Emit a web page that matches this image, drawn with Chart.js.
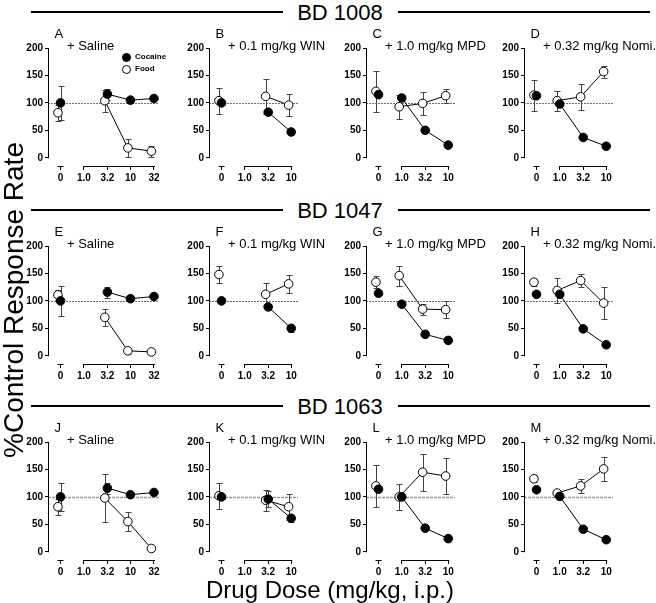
<!DOCTYPE html>
<html>
<head>
<meta charset="utf-8">
<script src="https://cdn.jsdelivr.net/npm/chart.js@4.4.1/dist/chart.umd.min.js"></script>
<style>
    body { margin: 0; background: #fff; }
    #page { position: relative; width: 656px; height: 603px; overflow: hidden;
            font-family: "Liberation Sans", Arial, sans-serif; color: #000; }
    #page canvas { position: absolute; }
    .txt { position: absolute; white-space: nowrap; line-height: 1; }
    .rule { position: absolute; height: 2px; background: #000; }
    .dot { position: absolute; width: 7px; height: 7px; border-radius: 50%; border: 1px solid #000; }
</style>
</head>
<body>
<div id="page"></div>
<script>
// Dose-response panels: cocaine vs food responding after pretreatments

// where the "0" (vehicle) point sits on the log dose axis
const CTRL = 0.316;

const dosesSaline = [3.2, 10, 32];
const dosesWin = [3.2, 10];
const dosesPre = [1.0, 3.2, 10];

const ticksWide = [CTRL, 1.0, 3.2, 10, 32];
const tickLabelsWide = ['0', '1.0', '3.2', '10', '32'];
const ticksNarrow = [CTRL, 1.0, 3.2, 10];
const tickLabelsNarrow = ['0', '1.0', '3.2', '10'];
const yTicks = [0, 50, 100, 150, 200];

const subjects = ['BD 1008', 'BD 1047', 'BD 1063'];
const panelLetters = [['A', 'B', 'C', 'D'], ['E', 'F', 'G', 'H'], ['J', 'K', 'L', 'M']];
const pretreatments = ['+ Saline', '+ 0.1 mg/kg WIN', '+ 1.0 mg/kg MPD', '+ 0.32 mg/kg Nomi.'];

// first value of each array = control (0) point, then one per dose
const cocaineA = [100, 116, 105, 108], cocaineErrA = [31, 10, 5, 2];
const foodA = [82, 104, 18, 12], foodErrA = [15, 20, 16, 10];
const cocaineB = [100, 83, 47], cocaineErrB = [3, 5, 5];
const foodB = [104, 112, 96], foodErrB = [24, 32, 20];
const cocaineC = [115, 109, 50, 23], cocaineErrC = [0, 6, 3, 2];
const foodC = [121, 93, 99, 113], foodErrC = [38, 22, 21, 13];
const cocaineD = [113, 98, 37, 21], cocaineErrD = [0, 4, 3, 2];
const foodD = [114, 104, 111, 157], foodErrD = [28, 18, 24, 11];

const cocaineE = [100, 116, 104, 108], cocaineErrE = [27, 10, 5, 2];
const foodE = [111, 70, 9, 7], foodErrE = [9, 16, 6, 0];
const cocaineF = [100, 89, 50], cocaineErrF = [0, 6, 6];
const foodF = [148, 112, 131], foodErrF = [15, 20, 16];
const cocaineG = [114, 94, 39, 28], cocaineErrG = [0, 0, 0, 0];
const foodG = [134, 146, 85, 84], foodErrG = [11, 18, 10, 16];
const cocaineH = [112, 112, 49, 20], cocaineErrH = [0, 0, 0, 0];
const foodH = [134, 119, 137, 96], foodErrH = [6, 22, 12, 29];

const cocaineJ = [100, 116, 104, 108], cocaineErrJ = [26, 10, 5, 2];
const foodJ = [82, 98, 55, 6], foodErrJ = [15, 44, 18, 0];
const cocaineK = [100, 96, 61], cocaineErrK = [3, 14, 6];
const foodK = [102, 94, 82], foodErrK = [24, 19, 24];
const cocaineL = [114, 100, 43, 24], cocaineErrL = [0, 0, 0, 0];
const foodL = [120, 100, 145, 138], foodErrL = [38, 23, 34, 33];
const cocaineM = [113, 101, 41, 22], cocaineErrM = [0, 0, 0, 0];
const foodM = [133, 107, 120, 151], foodErrM = [6, 6, 13, 22];

const panelData = [
    [[dosesSaline, cocaineA, cocaineErrA, foodA, foodErrA],
     [dosesWin, cocaineB, cocaineErrB, foodB, foodErrB],
     [dosesPre, cocaineC, cocaineErrC, foodC, foodErrC],
     [dosesPre, cocaineD, cocaineErrD, foodD, foodErrD]],
    [[dosesSaline, cocaineE, cocaineErrE, foodE, foodErrE],
     [dosesWin, cocaineF, cocaineErrF, foodF, foodErrF],
     [dosesPre, cocaineG, cocaineErrG, foodG, foodErrG],
     [dosesPre, cocaineH, cocaineErrH, foodH, foodErrH]],
    [[dosesSaline, cocaineJ, cocaineErrJ, foodJ, foodErrJ],
     [dosesWin, cocaineK, cocaineErrK, foodK, foodErrK],
     [dosesPre, cocaineL, cocaineErrL, foodL, foodErrL],
     [dosesPre, cocaineM, cocaineErrM, foodM, foodErrM]]
];

// layout
const FONT = '"Liberation Sans", Arial, sans-serif';
const axisXs = [48, 209, 366, 524];   // y-axis pixel per column
const rowTops = [48, 246, 442];       // pixel of y=200 per row
const YW = 32, PT = 10, PR = 12, XH = 22, CH = 118;
const PPD = 46.5;                     // pixels per log decade
const XMIN = 0.17;
const FOOD_SHIFT = 0.88;              // food points drawn a bit left so they don't hide
// the 100% line is a fine dotted line in the top rows, a heavier grey one in the last
const refLineStyles = [
    { color: '#6e6e6e', width: 1, dash: [2, 1] },
    { color: '#6e6e6e', width: 1, dash: [2, 1] },
    { color: '#9a9a9a', width: 1.6, dash: [3, 1] }
];

const page = document.getElementById('page');

function addText(text, left, top, size, extra) {
    const d = document.createElement('div');
    d.className = 'txt';
    d.textContent = text;
    d.style.left = left + 'px';
    d.style.top = top + 'px';
    d.style.fontSize = size + 'px';
    if (extra) Object.assign(d.style, extra);
    page.appendChild(d);
    return d;
}

// error bars, 100% line and the broken axes
const panelDecor = {
    id: 'panelDecor',
    beforeDatasetsDraw(chart, args, opts) {
        const { ctx, chartArea, scales: { x, y } } = chart;
        const ref = opts.ref;
        ctx.save();
        const y100 = Math.round(y.getPixelForValue(100)) + 0.5;
        ctx.strokeStyle = ref.color;
        ctx.lineWidth = ref.width;
        ctx.setLineDash(ref.dash);
        ctx.beginPath();
        ctx.moveTo(chartArea.left, y100);
        ctx.lineTo(chartArea.right, y100);
        ctx.stroke();
        ctx.setLineDash([]);

        ctx.strokeStyle = '#444';
        ctx.lineWidth = 1;
        chart.data.datasets.forEach(ds => {
            ds.data.forEach((pt, i) => {
                const e = ds.errors[i];
                if (pt.y == null || !e) return;
                const px = Math.round(x.getPixelForValue(pt.x)) + 0.5;
                const top = Math.round(y.getPixelForValue(pt.y + e)) + 0.5;
                const bot = Math.round(y.getPixelForValue(pt.y - e)) + 0.5;
                ctx.beginPath();
                ctx.moveTo(px, top); ctx.lineTo(px, bot);
                ctx.moveTo(px - 3, top); ctx.lineTo(px + 3, top);
                ctx.moveTo(px - 3, bot); ctx.lineTo(px + 3, bot);
                ctx.stroke();
            });
        });
        ctx.restore();
    },
    afterDraw(chart) {
        const { ctx, chartArea, scales: { x, y } } = chart;
        ctx.save();
        ctx.strokeStyle = '#000';
        ctx.lineWidth = 1;
        const ax = Math.round(chartArea.left) + 0.5;
        ctx.beginPath();
        ctx.moveTo(ax, y.getPixelForValue(200));
        ctx.lineTo(ax, y.getPixelForValue(0) + 0.5);
        ctx.stroke();

        const yb = Math.round(chartArea.bottom) + 0.5;
        const xc = x.getPixelForValue(CTRL);
        const last = x.ticks[x.ticks.length - 1].value;
        ctx.beginPath();
        ctx.moveTo(xc - 3, yb); ctx.lineTo(xc + 3, yb);
        ctx.moveTo(x.getPixelForValue(1.0), yb); ctx.lineTo(x.getPixelForValue(last) + 1, yb);
        ctx.stroke();
        ctx.restore();
    }
};

function makeSeries(doses, vals, errs, shift) {
    const data = [{ x: CTRL * shift, y: vals[0] }, { x: 0.6, y: null }];
    const errors = [errs[0], 0];
    doses.forEach((d, i) => {
        data.push({ x: d * shift, y: vals[i + 1] });
        errors.push(errs[i + 1]);
    });
    return { data, errors };
}

function drawPanel(r, c) {
    const [doses, coc, cocErr, food, foodErr] = panelData[r][c];
    const wide = c === 0;
    const xmax = wide ? 41 : 14;
    const ticks = wide ? ticksWide : ticksNarrow;
    const labels = wide ? tickLabelsWide : tickLabelsNarrow;
    const areaW = Math.round((Math.log10(xmax) - Math.log10(XMIN)) * PPD);

    const canvas = document.createElement('canvas');
    const w = YW + areaW + PR, h = PT + CH + XH;
    canvas.width = w; canvas.height = h;
    canvas.style.width = w + 'px'; canvas.style.height = h + 'px';
    canvas.style.left = (axisXs[c] - YW) + 'px';
    canvas.style.top = (rowTops[r] - PT) + 'px';
    page.appendChild(canvas);

    const cs = makeSeries(doses, coc, cocErr, 1);
    const fs = makeSeries(doses, food, foodErr, FOOD_SHIFT);
    const tickFont = { family: FONT, size: 10, weight: 'bold' };

    new Chart(canvas.getContext('2d'), {
        type: 'scatter',
        data: {
            datasets: [
                {
                    label: 'Cocaine', data: cs.data, errors: cs.errors,
                    showLine: true, spanGaps: false,
                    borderColor: '#000', borderWidth: 1,
                    pointRadius: 4.3, pointBackgroundColor: '#000',
                    pointBorderColor: '#000', pointBorderWidth: 1
                },
                {
                    label: 'Food', data: fs.data, errors: fs.errors,
                    showLine: true, spanGaps: false,
                    borderColor: '#000', borderWidth: 1,
                    pointRadius: 4.3, pointBackgroundColor: '#fff',
                    pointBorderColor: '#000', pointBorderWidth: 1
                }
            ]
        },
        options: {
            responsive: false,
            animation: false,
            devicePixelRatio: 1,
            layout: { padding: { top: PT, right: PR, bottom: 0, left: 0 } },
            plugins: {
                legend: { display: false },
                tooltip: { enabled: false },
                panelDecor: { ref: refLineStyles[r] }
            },
            scales: {
                x: {
                    type: 'logarithmic', min: XMIN, max: xmax,
                    afterBuildTicks: s => { s.ticks = ticks.map(v => ({ value: v })); },
                    afterFit: s => { s.height = XH; },
                    grid: { drawOnChartArea: false, drawTicks: true, tickLength: 4, color: '#000' },
                    border: { display: false },
                    ticks: {
                        autoSkip: false, maxRotation: 0, minRotation: 0, padding: 2,
                        color: '#000', font: tickFont,
                        callback: (v, i) => labels[i]
                    }
                },
                y: {
                    min: -15, max: 200,
                    afterBuildTicks: s => { s.ticks = yTicks.map(v => ({ value: v })); },
                    afterFit: s => { s.width = YW; },
                    grid: { drawOnChartArea: false, drawTicks: true, tickLength: 3, color: '#000' },
                    border: { display: false },
                    ticks: { padding: 2, color: '#000', font: tickFont }
                }
            }
        },
        plugins: [panelDecor]
    });

    // panel letter and pretreatment
    addText(panelLetters[r][c], axisXs[c] + 6.5, rowTops[r] - 21, 13);
    addText(pretreatments[c], axisXs[c] + 19, rowTops[r] - 9, 13);
}

function drawRowHeader(r) {
    const y = rowTops[r];
    addText(subjects[r], 240, y - 27 - 18.6, 22, { width: '200px', textAlign: 'center' });
    [[31, 283], [398, 650]].forEach(([a, b]) => {
        const line = document.createElement('div');
        line.className = 'rule';
        line.style.left = a + 'px';
        line.style.width = (b - a) + 'px';
        line.style.top = (y - 37) + 'px';
        page.appendChild(line);
    });
}

for (let r = 0; r < 3; r++) {
    drawRowHeader(r);
    for (let c = 0; c < 4; c++) drawPanel(r, c);
}

// legend in panel A
[['Cocaine', '#000', 57], ['Food', '#fff', 69]].forEach(([name, fill, cy]) => {
    const d = document.createElement('div');
    d.className = 'dot';
    d.style.background = fill;
    d.style.left = (126 - 4.5) + 'px';
    d.style.top = (cy - 4.5) + 'px';
    page.appendChild(d);
    addText(name, 135, cy - 4, 8, { fontWeight: 'bold' });
});

// axis titles
addText('%Control Response Rate', 14 - 200, 300 - 14, 28,
        { width: '400px', textAlign: 'center', transform: 'rotate(-90deg)' });
addText('Drug Dose (mg/kg, i.p.)', 130, 598 - 24 * 0.85, 24,
        { width: '400px', textAlign: 'center' });
</script>
</body>
</html>
